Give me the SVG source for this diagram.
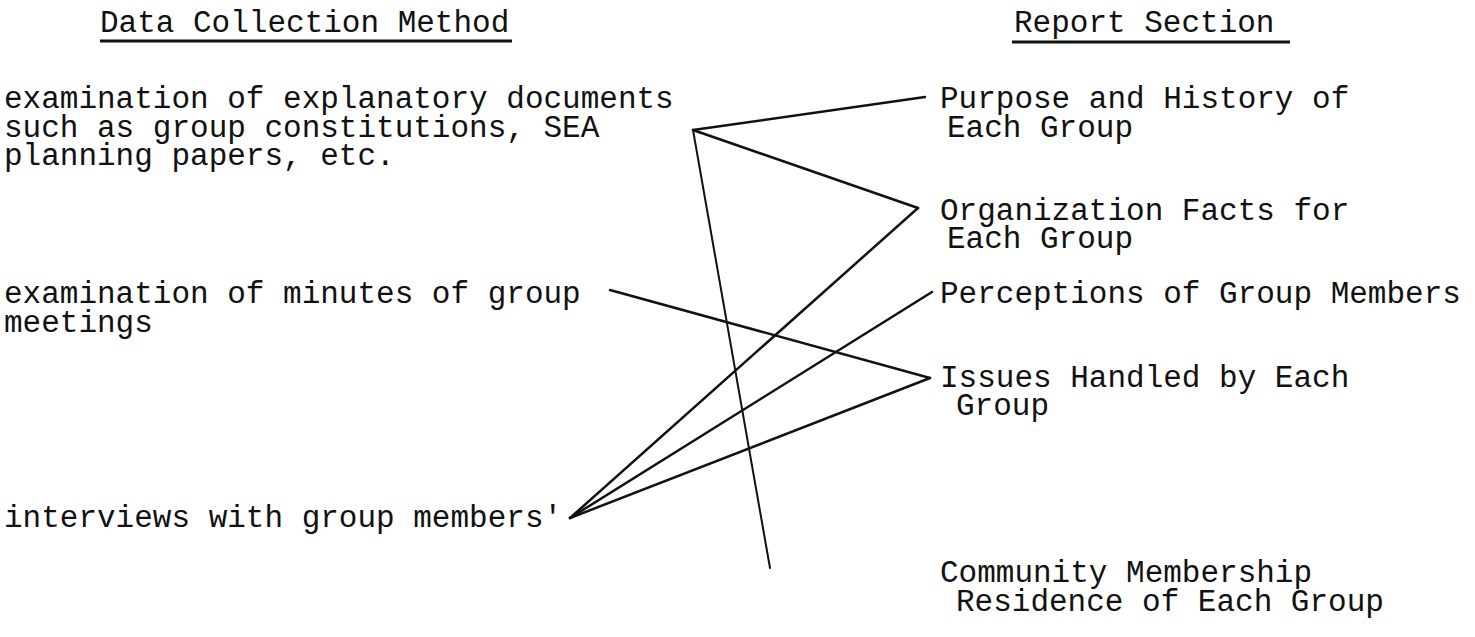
<svg xmlns="http://www.w3.org/2000/svg" width="1475" height="637" viewBox="0 0 1475 637">
<style>
  text { font-family: "Liberation Mono", "DejaVu Sans Mono", monospace; font-size: 31px; fill: #111; }
  .ul { stroke: #111; stroke-width: 3; fill: none; }
  .c { stroke: #111; stroke-width: 2.5; fill: none; stroke-linecap: round; }
  .thin { stroke-width: 2; }
</style>
<rect width="1475" height="637" fill="#fff"/>
<g id="headers">
  <text x="100" y="32">Data Collection Method</text>
  <line class="ul" x1="100" y1="41" x2="512" y2="41"/>
  <text x="1014" y="32">Report Section</text>
  <line class="ul" x1="1012" y1="42" x2="1290" y2="42"/>
</g>
<g id="m-documents">
  <text x="4" y="108">examination of explanatory documents</text>
  <text x="4" y="137">such as group constitutions, SEA</text>
  <text x="4" y="165">planning papers, etc.</text>
</g>
<g id="m-minutes">
  <text x="4" y="303">examination of minutes of group</text>
  <text x="4" y="332">meetings</text>
</g>
<g id="m-interviews">
  <text x="4" y="527">interviews with group members'</text>
</g>
<g id="r-purpose">
  <text x="940" y="108">Purpose and History of</text>
  <text x="947" y="137">Each Group</text>
</g>
<g id="r-organization">
  <text x="940" y="220">Organization Facts for</text>
  <text x="947" y="248">Each Group</text>
</g>
<g id="r-perceptions">
  <text x="940" y="303">Perceptions of Group Members</text>
</g>
<g id="r-issues">
  <text x="940" y="387">Issues Handled by Each</text>
  <text x="956" y="415">Group</text>
</g>
<g id="r-community">
  <text x="940" y="582">Community Membership</text>
  <text x="956" y="611">Residence of Each Group</text>
</g>
<g id="connectors">
  <path class="c" d="M693 130 L925 97"/>
  <path class="c" d="M693 130 L918 208"/>
  <path class="c thin" d="M693 130 L770 568"/>
  <path class="c" d="M918 208 L570 518"/>
  <path class="c" d="M932 292 L570 518"/>
  <path class="c" d="M930 378 L570 518"/>
  <path class="c" d="M610 290 L930 378"/>
</g>
</svg>
